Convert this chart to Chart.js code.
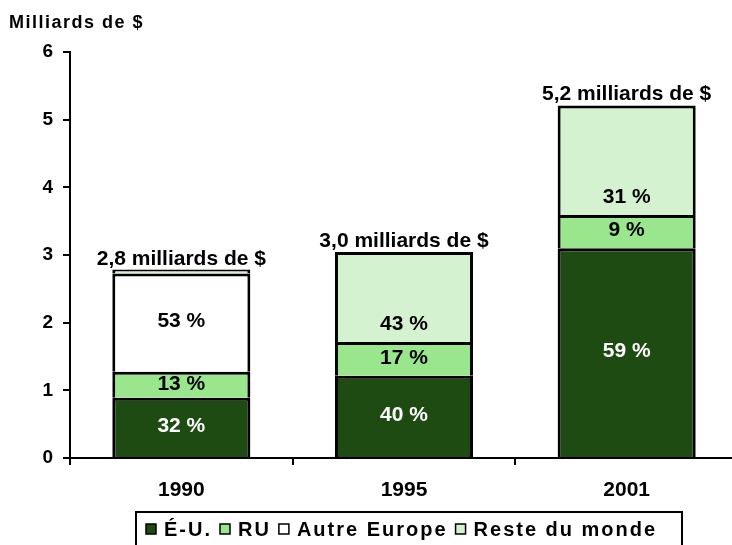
<!DOCTYPE html>
<html>
<head>
<meta charset="utf-8">
<script src="https://cdn.jsdelivr.net/npm/chart.js@4"></script>
<style>
    html, body { margin: 0; padding: 0; background: #fff; overflow: hidden; }
    #wrap { width: 732px; height: 545px; overflow: hidden; }
</style>
</head>
<body>
<div id="wrap"><canvas id="chart" width="740" height="545"></canvas></div>
<script>
// Values in milliards de $
const years = ['1990', '1995', '2001'];
const usValues = [0.89, 1.215, 3.10];
const ukValues = [0.385, 0.50, 0.49];
const otherEuropeValues = [1.45, null, null];
const restValues = [0.06, 1.33, 1.62];

// Shares shown inside the bars (%)
const usShare = [32, 40, 59];
const ukShare = [13, 17, 9];
const otherEuropeShare = [53, null, null];
const restShare = [null, 43, 31];

// Totals above the bars
const totals = [2.8, 3.0, 5.2];

const yTicks = [0, 1, 2, 3, 4, 5, 6];

const FONT = "'Liberation Sans', Arial, sans-serif";

const shares = [usShare, ukShare, otherEuropeShare, restShare];
const shareColors = ['#ffffff', '#000000', '#000000', '#000000'];

const barLabels = {
    id: 'barLabels',
    afterDatasetsDraw(chart) {
        const ctx = chart.ctx;
        ctx.save();
        ctx.textAlign = 'center';
        ctx.textBaseline = 'middle';
        ctx.font = 'bold 21px ' + FONT;
        shares.forEach((arr, di) => {
            const meta = chart.getDatasetMeta(di);
            meta.data.forEach((bar, i) => {
                if (arr[i] === null || arr[i] === undefined) return;
                // "Reste du monde" labels sit near the bottom of their segment
                const y = di === 3 ? bar.base - 18 : (bar.y + bar.base) / 2 - 1;
                ctx.fillStyle = shareColors[di];
                ctx.fillText(arr[i] + ' %', bar.x, y);
            });
        });

        // totals
        const top = chart.getDatasetMeta(3);
        ctx.fillStyle = '#000';
        ctx.textBaseline = 'alphabetic';
        top.data.forEach((bar, i) => {
            const txt = totals[i].toFixed(1).replace('.', ',') + ' milliards de $';
            ctx.fillText(txt, bar.x, bar.y - 5);
        });

        // axis title
        ctx.textAlign = 'left';
        ctx.font = 'bold 18px ' + FONT;
        ctx.letterSpacing = '1.5px';
        ctx.fillText('Milliards de $', 9, 28);
        ctx.restore();
    }
};

const boxLegend = {
    id: 'boxLegend',
    afterDraw(chart) {
        const ctx = chart.ctx;
        ctx.save();
        ctx.lineWidth = 2;
        ctx.strokeStyle = '#000';
        ctx.strokeRect(136, 512, 546, 60);

        ctx.font = 'bold 20px ' + FONT;
        ctx.letterSpacing = '2px';
        ctx.textBaseline = 'middle';
        ctx.textAlign = 'left';
        let x = 146;
        const cy = 529;
        chart.data.datasets.forEach(ds => {
            ctx.fillStyle = ds.backgroundColor;
            ctx.fillRect(x, cy - 5, 10, 10);
            ctx.lineWidth = 1.5;
            ctx.strokeRect(x, cy - 5, 10, 10);
            x += 18;
            ctx.fillStyle = '#000';
            ctx.fillText(ds.label, x, cy + 1);
            x += ctx.measureText(ds.label).width + 8;
        });
        ctx.restore();
    }
};

new Chart(document.getElementById('chart'), {
    type: 'bar',
    data: {
        labels: years,
        datasets: [
            { label: 'É-U.', data: usValues, backgroundColor: '#1e4b12' },
            { label: 'RU', data: ukValues, backgroundColor: '#99e68c' },
            { label: 'Autre Europe', data: otherEuropeValues, backgroundColor: '#ffffff' },
            { label: 'Reste du monde', data: restValues, backgroundColor: '#d5f2d0' }
        ]
    },
    options: {
        responsive: false,
        animation: false,
        devicePixelRatio: 1,
        layout: { padding: { top: 52, right: 2, bottom: 47, left: 0 } },
        datasets: {
            bar: {
                borderColor: '#000',
                borderWidth: 3,
                categoryPercentage: 1,
                barPercentage: 0.62
            }
        },
        plugins: {
            legend: { display: false },
            tooltip: { enabled: false }
        },
        scales: {
            x: {
                stacked: true,
                afterFit(scale) { scale.height = 40; },
                grid: { drawOnChartArea: false, tickLength: 7, color: '#000', lineWidth: 2 },
                border: { color: '#000', width: 2 },
                ticks: {
                    color: '#000',
                    padding: 13,
                    font: { family: FONT, size: 21, weight: 'bold' }
                }
            },
            y: {
                stacked: true,
                min: 0,
                max: 6,
                afterFit(scale) { scale.width = 70; },
                afterBuildTicks(scale) { scale.ticks = yTicks.map(v => ({ value: v })); },
                grid: { drawOnChartArea: false, tickLength: 7, color: '#000', lineWidth: 2 },
                border: { color: '#000', width: 2 },
                ticks: {
                    color: '#000',
                    padding: 10,
                    font: { family: FONT, size: 19, weight: 'bold' }
                }
            }
        }
    },
    plugins: [barLabels, boxLegend]
});
</script>
</body>
</html>
